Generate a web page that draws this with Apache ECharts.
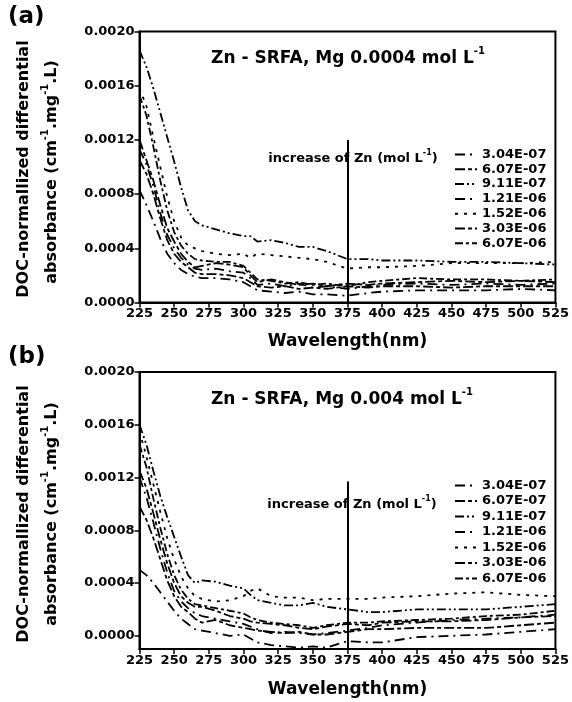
<!DOCTYPE html>
<html>
<head>
<meta charset="utf-8">
<script src="https://cdn.jsdelivr.net/npm/echarts@6/dist/echarts.min.js"></script>
<style>html,body{margin:0;padding:0;background:#fff}#c{width:572px;height:702px}</style>
</head>
<body>
<div id="c"></div>
<script>
// ---------- DATA ----------
const wavelengths = [225,230,235,240,245,250,255,260,265,270,280,290,300,305,310,320,330,340,350,360,375,390,400,425,450,475,500,525];
const concNames = ['3.04E-07','6.07E-07','9.11E-07','1.21E-06','1.52E-06','3.03E-06','6.07E-06'];

// Panel (a): Mg 0.0004 mol L-1
const a_304E07 = [0.00083,0.00072,0.00060,0.00047,0.00036,0.00029,0.00024,0.00021,0.00019,0.00018,0.00018,0.00017,0.00015,0.00012,0.00009,0.00008,0.00007,0.00008,0.00006,0.00006,0.00005,0.00007,0.00008,0.00009,0.00009,0.00009,0.00010,0.00009];
const a_607E07 = [0.00105,0.00095,0.00080,0.00062,0.00046,0.00036,0.00030,0.00026,0.00022,0.00021,0.00021,0.00020,0.00018,0.00015,0.00012,0.00011,0.00012,0.00010,0.00011,0.00010,0.00012,0.00011,0.00012,0.00012,0.00011,0.00012,0.00012,0.00012];
const a_911E07 = [0.00186,0.00174,0.00158,0.00140,0.00122,0.00104,0.00085,0.00068,0.00060,0.00057,0.00054,0.00051,0.00049,0.00049,0.00045,0.00046,0.00044,0.00041,0.00041,0.00038,0.00032,0.00032,0.00031,0.00031,0.00030,0.00030,0.00029,0.00028];
const a_121E06 = [0.00113,0.00102,0.00086,0.00066,0.00050,0.00040,0.00033,0.00028,0.00025,0.00024,0.00025,0.00023,0.00022,0.00018,0.00013,0.00014,0.00012,0.00014,0.00011,0.00012,0.00010,0.00012,0.00013,0.00014,0.00013,0.00014,0.00013,0.00014];
const a_152E06 = [0.00158,0.00145,0.00122,0.00100,0.00078,0.00060,0.00048,0.00042,0.00040,0.00038,0.00036,0.00035,0.00036,0.00033,0.00036,0.00035,0.00034,0.00033,0.00032,0.00030,0.00025,0.00026,0.00026,0.00027,0.00029,0.00029,0.00029,0.00030];
const a_303E06 = [0.00120,0.00105,0.00090,0.00072,0.00055,0.00045,0.00036,0.00030,0.00026,0.00027,0.00029,0.00028,0.00026,0.00020,0.00015,0.00017,0.00015,0.00013,0.00014,0.00012,0.00014,0.00013,0.00014,0.00015,0.00016,0.00015,0.00016,0.00015];
const a_607E06 = [0.00153,0.00138,0.00115,0.00090,0.00068,0.00052,0.00042,0.00036,0.00032,0.00031,0.00030,0.00030,0.00027,0.00022,0.00017,0.00016,0.00014,0.00015,0.00013,0.00014,0.00012,0.00015,0.00016,0.00018,0.00017,0.00017,0.00016,0.00017];

// Panel (b): Mg 0.004 mol L-1
const b_304E07 = [0.00050,0.00046,0.00040,0.00033,0.00026,0.00019,0.00013,0.00009,0.00005,0.00004,0.00002,0.00000,0.00001,-0.00002,-0.00005,-0.00007,-0.00008,-0.00009,-0.00008,-0.00009,-0.00004,-0.00005,-0.00005,-0.00001,0.00000,0.00001,0.00003,0.00005];
const b_607E07 = [0.00098,0.00088,0.00074,0.00058,0.00042,0.00030,0.00022,0.00018,0.00013,0.00010,0.00012,0.00008,0.00006,0.00005,0.00004,0.00003,0.00002,0.00003,0.00001,0.00001,0.00003,0.00005,0.00005,0.00006,0.00006,0.00006,0.00008,0.00010];
const b_911E07 = [0.00160,0.00145,0.00125,0.00106,0.00090,0.00075,0.00060,0.00046,0.00040,0.00042,0.00041,0.00038,0.00036,0.00031,0.00027,0.00025,0.00023,0.00023,0.00025,0.00022,0.00020,0.00018,0.00018,0.00020,0.00020,0.00020,0.00022,0.00024];
const b_121E06 = [0.00120,0.00105,0.00086,0.00066,0.00048,0.00034,0.00026,0.00021,0.00017,0.00015,0.00013,0.00011,0.00009,0.00007,0.00005,0.00002,0.00003,0.00002,0.00001,0.00002,0.00004,0.00006,0.00008,0.00010,0.00012,0.00013,0.00014,0.00016];
const b_152E06 = [0.00155,0.00136,0.00115,0.00094,0.00074,0.00058,0.00045,0.00036,0.00030,0.00028,0.00026,0.00027,0.00030,0.00034,0.00036,0.00030,0.00029,0.00029,0.00027,0.00028,0.00028,0.00028,0.00029,0.00030,0.00032,0.00033,0.00031,0.00030];
const b_303E06 = [0.00125,0.00112,0.00093,0.00073,0.00055,0.00040,0.00030,0.00025,0.00022,0.00022,0.00019,0.00015,0.00013,0.00011,0.00010,0.00009,0.00008,0.00006,0.00005,0.00007,0.00009,0.00008,0.00010,0.00011,0.00011,0.00012,0.00014,0.00015];
const b_607E06 = [0.00145,0.00128,0.00104,0.00082,0.00062,0.00046,0.00035,0.00028,0.00024,0.00023,0.00021,0.00019,0.00017,0.00014,0.00012,0.00010,0.00009,0.00008,0.00006,0.00008,0.00010,0.00010,0.00011,0.00012,0.00013,0.00015,0.00016,0.00019];

const xTicks = [225,250,275,300,325,350,375,400,425,450,475,500,525];
const yTicks = [0,0.0004,0.0008,0.0012,0.0016,0.0020];
const arrowX = 375;
const arrowA = [0, 0.00120];
const arrowB = [-0.0001, 0.00117];

// ---------- STYLE ----------
const FF = 'DejaVu Sans';
const dashes = {
  '3.04E-07':[10,5,2,5],
  '6.07E-07':[10,3,4,3],
  '9.11E-07':[9,3,2,3,2,3],
  '1.21E-06':[10,5,2,5],
  '1.52E-06':[3,6],
  '3.03E-06':[10,3,4,3],
  '6.07E-06':[8,3,3,3]
};
const panelA = {'3.04E-07':a_304E07,'6.07E-07':a_607E07,'9.11E-07':a_911E07,'1.21E-06':a_121E06,'1.52E-06':a_152E06,'3.03E-06':a_303E06,'6.07E-06':a_607E06};
const panelB = {'3.04E-07':b_304E07,'6.07E-07':b_607E07,'9.11E-07':b_911E07,'1.21E-06':b_121E06,'1.52E-06':b_152E06,'3.03E-06':b_303E06,'6.07E-06':b_607E06};

function mk(name, vals, g){
  return {type:'line', name:name, xAxisIndex:g, yAxisIndex:g, symbol:'none', showSymbol:false,
    data: wavelengths.map((w,i)=>[w, vals[i]]),
    lineStyle:{color:'#000', width:1.8, type:dashes[name]}, itemStyle:{color:'#000'},
    animation:false, clip:true};
}
const series = [];
concNames.forEach(n=>series.push(mk(n, panelA[n], 0)));
concNames.forEach(n=>series.push(mk(n, panelB[n], 1)));
function arrowSeries(g, ends){
  return {type:'line', xAxisIndex:g, yAxisIndex:g, data:[], silent:true, animation:false,
    markLine:{silent:true, animation:false, symbol:['none','arrow'], symbolSize:[0,11],
      label:{show:false}, lineStyle:{color:'#000', width:2, type:'solid'},
      data:[[{coord:[arrowX, ends[0]]},{coord:[arrowX, ends[1]]}]]}};
}
series.push(arrowSeries(0, arrowA));
series.push(arrowSeries(1, arrowB));

const labelFont = {fontFamily:FF, fontWeight:'bold', fontSize:13, color:'#000'};
function xAx(g, gap){
  return {type:'value', gridIndex:g, min:225, max:525, interval:25,
    axisLine:{onZero:false, lineStyle:{color:'#000', width:2}}, axisTick:{length:5, lineStyle:{color:'#000', width:1.5}},
    axisLabel:Object.assign({margin:5, showMinLabel:true, showMaxLabel:true}, labelFont),
    splitLine:{show:false},
    name:'Wavelength(nm)', nameLocation:'middle', nameGap:gap,
    nameTextStyle:{fontFamily:FF, fontWeight:'bold', fontSize:17, color:'#000'}};
}
function yAx(g, min){
  return {type:'value', gridIndex:g, min:min, max:0.002,
    axisLine:{show:true, onZero:false, lineStyle:{color:'#000', width:2}},
    axisTick:{show:true, length:5, customValues:yTicks, lineStyle:{color:'#000', width:1.5}},
    axisLabel:Object.assign({margin:5, customValues:yTicks, formatter:v=>v.toFixed(4)}, labelFont),
    splitLine:{show:false}};
}
const legendBase = {orient:'vertical', itemWidth:22, itemHeight:10, data:concNames,
  itemStyle:{color:'rgba(0,0,0,0)', borderColor:'rgba(0,0,0,0)', borderWidth:0},
  lineStyle:{width:2},
  textStyle:{fontFamily:FF, fontWeight:'bold', fontSize:13, lineHeight:12, color:'#000'}, selectedMode:false};

function sup(mainSize, supSize){
  return {
    t:{fontFamily:FF, fontWeight:'bold', fontSize:mainSize, lineHeight:mainSize+4, fill:'#000', verticalAlign:'bottom'},
    s:{fontFamily:FF, fontWeight:'bold', fontSize:supSize, lineHeight:supSize, fill:'#000', verticalAlign:'top'}
  };
}
function txt(x, y, text, rich, rot){
  return {type:'text', x:x, y:y, rotation:rot||0, silent:true,
    style:{text:text, rich:rich, align:'center', verticalAlign:'middle', fill:'#000'}};
}
const graphic = [
  {type:'text', x:8, y:17, silent:true, style:{text:'(a)', font:'bold 23px DejaVu Sans', fill:'#000', align:'left', verticalAlign:'middle'}},
  {type:'text', x:8, y:357, silent:true, style:{text:'(b)', font:'bold 23px DejaVu Sans', fill:'#000', align:'left', verticalAlign:'middle'}},
  txt(348, 57, '{t|Zn - SRFA, Mg 0.0004 mol L}{s|-1}', sup(17,10)),
  txt(342, 398, '{t|Zn - SRFA, Mg 0.004 mol L}{s|-1}', sup(17,10)),
  txt(353, 157, '{t|increase of Zn (mol L}{s|-1}{t|)}', sup(13,8)),
  txt(352, 503, '{t|increase of Zn (mol L}{s|-1}{t|)}', sup(13,8)),
  txt(22, 169, '{t|DOC-normallized differential}', sup(16,10), Math.PI/2),
  txt(50, 172, '{t|absorbance (cm}{s|-1}{t|.mg}{s|-1}{t|.L)}', sup(16,10), Math.PI/2),
  txt(22, 514, '{t|DOC-normallized differential}', sup(16,10), Math.PI/2),
  txt(50, 514, '{t|absorbance (cm}{s|-1}{t|.mg}{s|-1}{t|.L)}', sup(16,10), Math.PI/2)
];

const chart = echarts.init(document.getElementById('c'), null, {renderer:'canvas'});
chart.setOption({
  backgroundColor:'#fff',
  animation:false,
  grid:[
    {left:139.5, top:31.5, width:418, height:271, show:true, borderColor:'#000', borderWidth:2, backgroundColor:'transparent'},
    {left:139.5, top:372, width:418, height:277, show:true, borderColor:'#000', borderWidth:2, backgroundColor:'transparent'}
  ],
  xAxis:[xAx(0, 31), xAx(1, 32)],
  yAxis:[yAx(0, 0), yAx(1, -0.0001)],
  legend:[Object.assign({left:449, top:143, itemGap:1.8}, legendBase), Object.assign({left:449, top:474, itemGap:2.5}, legendBase)],
  graphic:graphic,
  series:series
});
</script>
</body>
</html>
